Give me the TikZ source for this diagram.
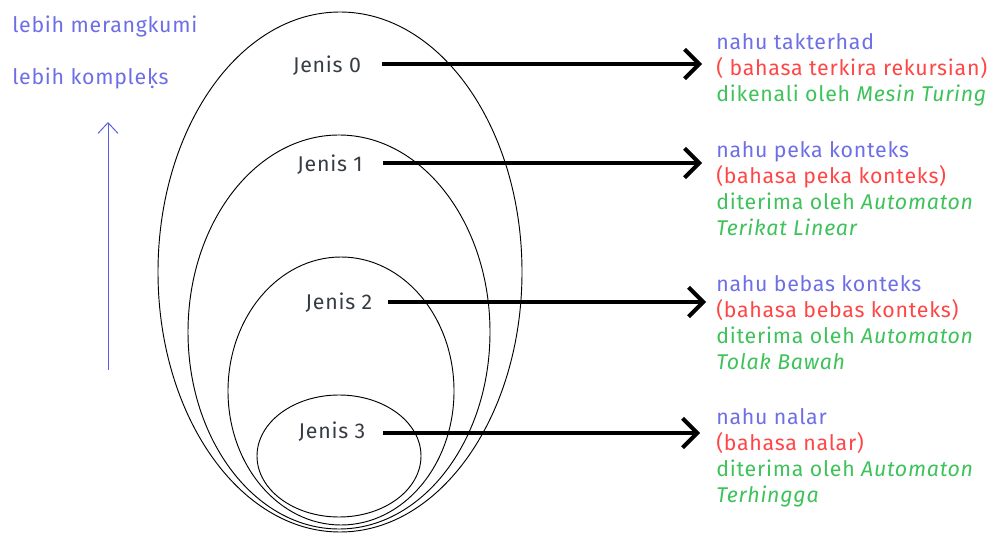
\documentclass[tikz,border=0pt]{standalone}
\usepackage{fontspec}
\setmainfont{Fira Sans}[LetterSpace=3.5]
\usetikzlibrary{arrows.meta,shapes.geometric}
\definecolor{nahu}{HTML}{6E6EE6}
\definecolor{bahasa}{HTML}{FF4646}
\definecolor{terima}{HTML}{3EC25A}
\definecolor{jenisgray}{HTML}{363C44}
\definecolor{naikblue}{HTML}{5C5CE8}
\tikzset{set/.style={ellipse,draw,line width=0.7pt,inner sep=0pt},jenis/.style={text=jenisgray,font=\fontsize{16}{18}\selectfont},kelas/.style={anchor=north west,align=left,inner sep=0pt,font=\fontsize{16}{19.5}\selectfont},bigarr/.style={-{Straight Barb[length=11pt,width=22pt]},line width=3pt},naik/.style={-{Straight Barb[length=8pt,width=15pt]},naikblue,line width=0.75pt}}

\begin{document}
\begin{tikzpicture}[x=0.75pt,y=-0.75pt]
\useasboundingbox (0,0) rectangle (992,534);
% himpunan bersarang
\node[set,minimum width=273pt,minimum height=390pt] (e0) at (340,272) {};
\node[set,minimum width=226.5pt,minimum height=295.5pt] (e1) at (339,332) {};
\node[set,minimum width=169.5pt,minimum height=201pt] (e2) at (341,391) {};
\node[set,minimum width=123pt,minimum height=91.5pt] (e3) at (339,456) {};
\node[jenis] (j0) at (327,66) {Jenis 0};
\node[jenis] (j1) at (330,165) {Jenis 1};
\node[jenis] (j2) at (339,303) {Jenis 2};
\node[jenis] (j3) at (332,432) {Jenis 3};
\foreach \i/\y/\xs/\xt in {0/64/382/702,1/163/383/702,2/302/388/706,3/433/383/700}{
\coordinate (s\i) at (\xs,\y);
\coordinate (t\i) at (\xt,\y);
\draw[bigarr] (s\i) -- (t\i);}
% keterangan kanan
\node[kelas] (k0) at (716,33) {\textcolor{nahu}{nahu takterhad}\\\textcolor{bahasa}{( bahasa terkira rekursian)}\\\textcolor{terima}{dikenali oleh \textit{Mesin Turing}}};
\node[kelas] (k1) at (716,141) {\textcolor{nahu}{nahu peka konteks}\\\textcolor{bahasa}{(bahasa peka konteks)}\\\textcolor{terima}{diterima oleh \textit{Automaton}}\\\textcolor{terima}{\textit{Terikat Linear}}};
\node[kelas] (k2) at (716,275) {\textcolor{nahu}{nahu bebas konteks}\\\textcolor{bahasa}{(bahasa bebas konteks)}\\\textcolor{terima}{diterima oleh \textit{Automaton}}\\\textcolor{terima}{\textit{Tolak Bawah}}};
\node[kelas] (k3) at (716,408) {\textcolor{nahu}{nahu nalar}\\\textcolor{bahasa}{(bahasa nalar)}\\\textcolor{terima}{diterima oleh \textit{Automaton}}\\\textcolor{terima}{\textit{Terhingga}}};
% arah kiri
\node[anchor=west,inner sep=0pt,text=nahu,font=\fontsize{16}{18}\selectfont] (lm) at (12,26) {lebih merangkumi};
\node[anchor=west,inner sep=0pt,text=nahu,font=\fontsize{16}{18}\selectfont] (lk) at (12,78) {lebih komple\d{k}s};
\coordinate (b0) at (108,370);
\coordinate (b1) at (108,122);
\draw[naik] (b0) -- (b1);
\end{tikzpicture}
\end{document}
